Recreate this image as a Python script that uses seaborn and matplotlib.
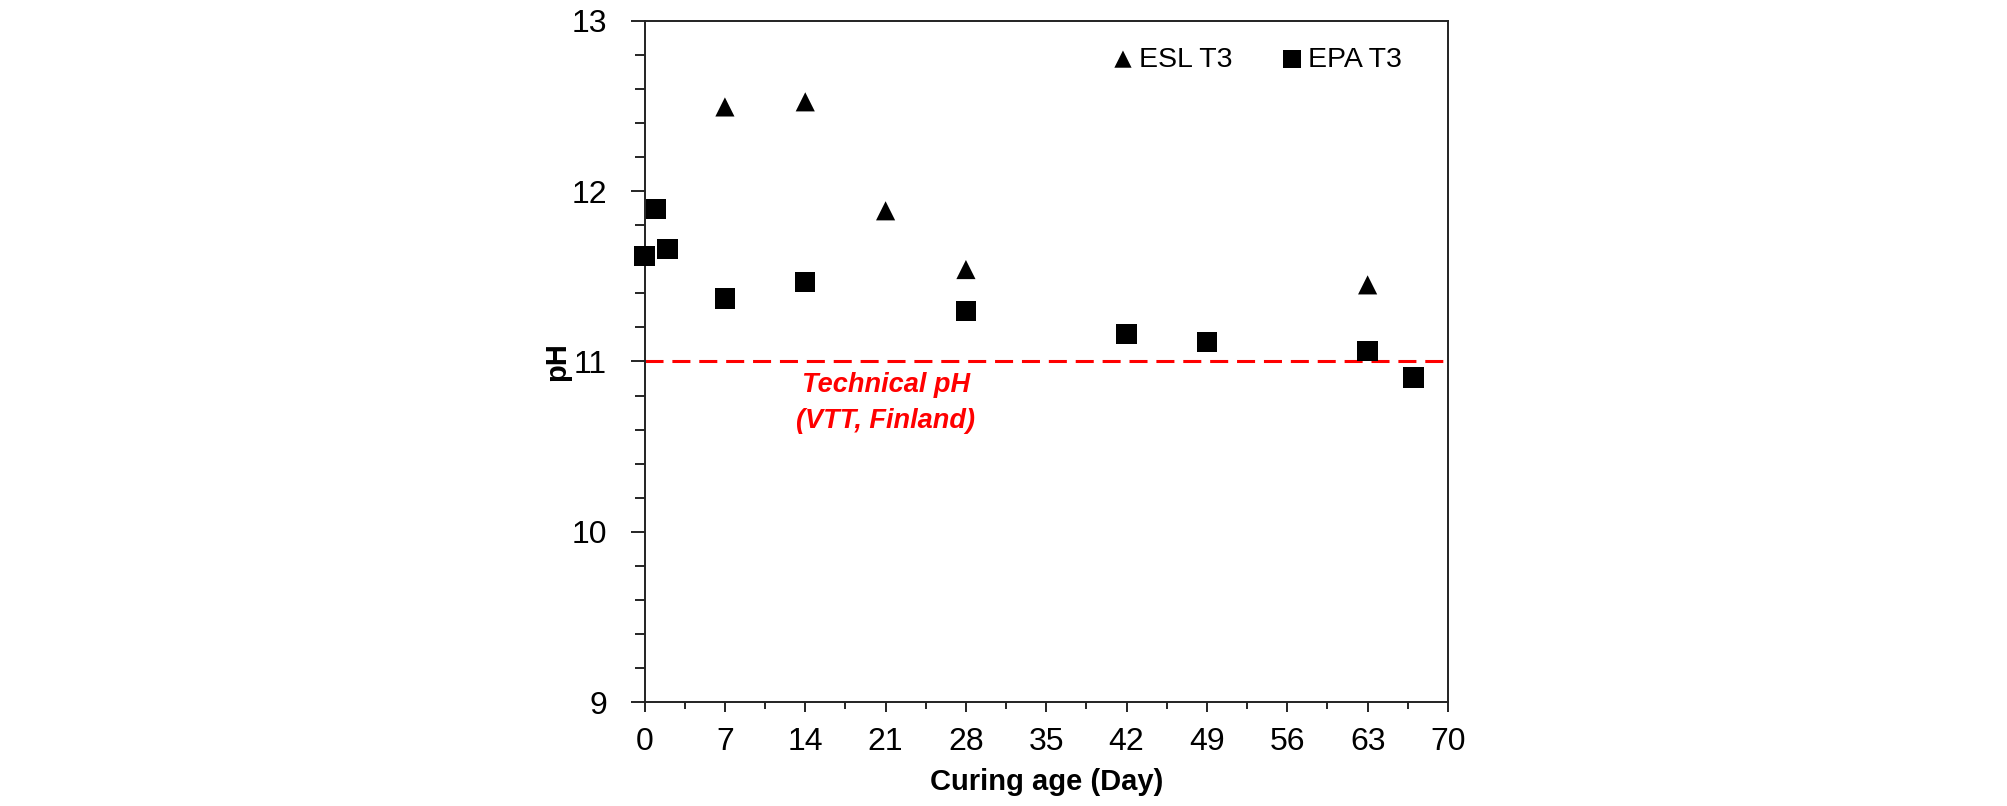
import numpy as np
import pandas as pd
import seaborn as sns
import matplotlib.pyplot as plt
from matplotlib.ticker import MultipleLocator

# data
esl_day = [7, 14, 21, 28, 63]
esl_ph = [12.495, 12.525, 11.885, 11.54, 11.45]
epa_day = [0, 1, 2, 7, 14, 28, 42, 49, 63, 67]
epa_ph = [11.62, 11.895, 11.66, 11.37, 11.465, 11.295, 11.16, 11.115, 11.06, 10.905]
tech_ph = 11
xticks = [0, 7, 14, 21, 28, 35, 42, 49, 56, 63, 70]
yticks = [9, 10, 11, 12, 13]

esl = pd.DataFrame({"day": esl_day, "pH": esl_ph})
epa = pd.DataFrame({"day": epa_day, "pH": epa_ph})

sns.set_theme(style="white")
plt.rcParams['font.family'] = ['Liberation Sans', 'DejaVu Sans']
plt.rcParams['text.color'] = 'black'
plt.rcParams['axes.labelcolor'] = 'black'
plt.rcParams['xtick.color'] = 'black'
plt.rcParams['ytick.color'] = 'black'

fig = plt.figure(figsize=(20.08, 8.06), dpi=100)
ax = fig.add_axes([0.321, 0.129, 0.4001, 0.845])

sns.scatterplot(data=esl, x="day", y="pH", marker="^", s=190, color="black",
                edgecolor="none", label="ESL T3", ax=ax, zorder=3, clip_on=False)
sns.scatterplot(data=epa, x="day", y="pH", marker="s", s=215, color="black",
                edgecolor="none", label="EPA T3", ax=ax, zorder=3, clip_on=False)

ax.axhline(tech_ph, color="red", lw=2.2, linestyle=(0, (5.9, 2.9)), zorder=2)
ax.text(21, 10.755, "Technical pH\n(VTT, Finland)", color="red", fontsize=19.5,
        fontweight="bold", fontstyle="italic", ha="center", va="center",
        linespacing=1.5)

ax.set_xlim(0, 70)
ax.set_ylim(9, 13)
ax.set_xticks(xticks)
ax.set_yticks(yticks)
ax.xaxis.set_minor_locator(MultipleLocator(3.5))
ax.yaxis.set_minor_locator(MultipleLocator(0.2))
ax.tick_params(which="major", direction="out", length=7, width=1.2, color="black",
               labelsize=23, bottom=True, left=True)
ax.tick_params(which="minor", direction="out", length=5, width=1.2, color="black",
               bottom=True, left=True)
ax.tick_params(axis="y", which="major", length=10, pad=17)
ax.tick_params(axis="y", which="minor", length=7)
ax.tick_params(axis="x", pad=11)

for sp in ax.spines.values():
    sp.set_color("#222222")
    sp.set_linewidth(1.4)

ax.set_xlabel("Curing age (Day)", fontsize=21, fontweight="bold", labelpad=8)
ax.set_ylabel("pH", fontsize=21, fontweight="bold", labelpad=0)

ax.legend(loc="upper right", bbox_to_anchor=(0.974, 1.0), ncol=2, frameon=False,
          fontsize=20.5, handletextpad=0.05, columnspacing=1.6, markerscale=0.9,
          handlelength=1.0)

fig.savefig("out.png", dpi=100)
